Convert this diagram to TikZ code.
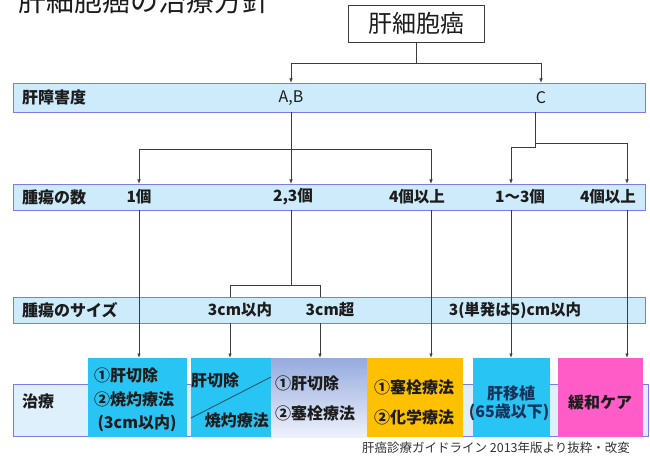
\documentclass[tikz,border=0pt]{standalone}
\usepackage{fontspec}
\setmainfont{Noto Sans CJK JP}
\usetikzlibrary{arrows.meta}
\definecolor{barfill}{RGB}{205,235,251}
\definecolor{barfilltwo}{RGB}{222,240,252}
\definecolor{barline}{RGB}{122,122,232}
\definecolor{connc}{RGB}{60,60,60}
\definecolor{txt}{RGB}{28,28,28}
\definecolor{cyanbox}{RGB}{40,196,244}
\definecolor{orangebox}{RGB}{255,192,0}
\definecolor{pinkbox}{RGB}{255,92,200}
\definecolor{lavtop}{RGB}{150,170,222}
\definecolor{lavbot}{RGB}{238,242,251}
\definecolor{diagc}{RGB}{30,90,110}
\definecolor{navytxt}{RGB}{20,50,90}
\definecolor{fntxt}{RGB}{50,50,50}
\begin{document}
\begin{tikzpicture}[x=1pt,y=-1pt,
  bar/.style={draw=barline, line width=1.3pt, fill=barfill, anchor=north west, inner sep=0, minimum width=632pt},
  conn/.style={draw=connc, line width=0.8pt},
  arr/.style={conn, -{Latex[length=4.5pt,width=3.5pt]}},
  hdr/.style={font=\fontsize{16}{16}\selectfont\bfseries, text=txt, inner sep=0, anchor=west},
  val/.style={font=\fontsize{15.5}{16}\selectfont\bfseries, text=txt, inner sep=0},
  valr/.style={font=\fontsize{16}{16}\selectfont, text=txt, inner sep=0},
  tbox/.style={anchor=north west, inner sep=0, minimum height=79pt},
  btxt/.style={font=\fontsize{16}{17}\selectfont\bfseries, text=txt, inner sep=0}]
\useasboundingbox (0,0) rectangle (650,457);

% title
\node[font=\fontsize{28}{28}\selectfont, text=txt, anchor=west, inner sep=0] (title) at (18,0.5) {肝細胞癌の治療方針};

% top box
\node[draw=connc, line width=0.8pt, fill=white, minimum width=136pt, minimum height=37pt, inner sep=0,
      font=\fontsize{24}{24}\selectfont, text=txt] (hcc) at (416,23.5) {肝細胞癌};

% bars
\node[bar, minimum height=29pt] (bar1) at (13,83) {};
\node[bar, minimum height=26pt] (bar2) at (13,184) {};
\node[bar, minimum height=26pt] (bar3) at (13,297) {};
\node[bar, fill=barfilltwo, minimum width=635pt, minimum height=52pt] (bar4) at (13,384) {};

% coordinates
\coordinate (j0) at (416,63);
\coordinate (jab) at (291,63);
\coordinate (jc) at (541,63);
\coordinate (ab1) at (291,83);
\coordinate (c1) at (541,83);
\coordinate (ab2) at (291,112);
\coordinate (c2) at (535,112);
\coordinate (l1) at (139,149);
\coordinate (r1) at (431,149);
\coordinate (cj) at (535,147);
\coordinate (cj2) at (535,143);
\coordinate (cl) at (511,147);
\coordinate (cr) at (627,143);
\coordinate (n1) at (139,184);
\coordinate (n2) at (291,184);
\coordinate (n3) at (431,184);
\coordinate (n4) at (511,184);
\coordinate (n5) at (627,184);
\coordinate (m1) at (139,210);
\coordinate (m2) at (291,210);
\coordinate (m3) at (431,210);
\coordinate (m4) at (511,210);
\coordinate (m5) at (627,210);
\coordinate (sj) at (291,285);
\coordinate (sl) at (230,285);
\coordinate (sr) at (320,285);
\coordinate (s1) at (230,297);
\coordinate (s2) at (320,297);
\coordinate (t1) at (230,323);
\coordinate (t2) at (320,323);
\coordinate (e1) at (139,358);
\coordinate (e2) at (230,358);
\coordinate (e3) at (320,358);
\coordinate (e4) at (431,358);
\coordinate (e5) at (511,358);
\coordinate (e6) at (627,358);

% connectors
\draw[conn] (hcc.south) -- (j0);
\draw[conn] (jab) -- (jc);
\draw[arr] (jab) -- (ab1);
\draw[arr] (jc) -- (c1);
\draw[arr] (ab2) -- (n2);
\draw[conn] (l1) -- (r1);
\draw[arr] (l1) -- (n1);
\draw[arr] (r1) -- (n3);
\draw[conn] (c2) -- (cj) -- (cl);
\draw[arr] (cl) -- (n4);
\draw[conn] (cj2) -- (cr);
\draw[arr] (cr) -- (n5);
\draw[conn] (m2) -- (sj);
\draw[conn] (sl) -- (sr);
\draw[conn] (sl) -- (s1);
\draw[conn] (sr) -- (s2);
\draw[arr] (m1) -- (e1);
\draw[arr] (m3) -- (e4);
\draw[arr] (m4) -- (e5);
\draw[arr] (m5) -- (e6);
\draw[arr] (t1) -- (e2);
\draw[arr] (t2) -- (e3);

% bar labels
\node[hdr] (h1) at (22,97.5) {肝障害度};
\node[valr] (vab) at (291,98) {A,B};
\node[valr] (vc) at (541,98) {C};
\node[hdr] (h2) at (22,197) {腫瘍の数};
\node[val] (v21) at (139,197) {1個};
\node[val] (v22) at (293,197) {2,3個};
\node[val] (v23) at (417,197) {4個以上};
\node[val] (v24) at (520,197) {1〜3個};
\node[val] (v25) at (608,197) {4個以上};
\node[hdr] (h3) at (22,310) {腫瘍のサイズ};
\node[val] (v31) at (240,310) {3cm以内};
\node[val] (v32) at (330,310) {3cm超};
\node[val] (v33) at (515,310) {3(単発は5)cm以内};
\node[hdr] (h4) at (22,401) {治療};

% treatment boxes
\node[tbox, fill=cyanbox, minimum width=99pt] (b1) at (88,358) {};
\node[tbox, fill=cyanbox, minimum width=80pt] (b2) at (191,358) {};
\node[tbox, top color=lavtop, bottom color=lavbot, minimum width=96pt] (b3) at (271,358) {};
\node[tbox, fill=orangebox, minimum width=96pt] (b4) at (367,358) {};
\node[tbox, fill=cyanbox, minimum width=77pt] (b5) at (473,358) {};
\node[tbox, fill=pinkbox, minimum width=85pt] (b6) at (558,358) {};

\node[btxt, anchor=west] (t11) at (94,375) {①肝切除};
\node[btxt, anchor=west] (t12) at (94,399) {②焼灼療法};
\node[btxt] (t13) at (137,423) {(3cm以内)};

\coordinate (dg1) at (191,418);
\coordinate (dg2) at (271,377);
\draw[draw=diagc, line width=0.9pt] (dg1) -- (dg2);
\node[btxt, anchor=west] (t21) at (191,380) {肝切除};
\node[btxt, anchor=east] (t22) at (269,420) {焼灼療法};

\node[btxt, anchor=west] (t31) at (275,383) {①肝切除};
\node[btxt, anchor=west] (t32) at (275,413) {②塞栓療法};

\node[btxt] (t41) at (414,387) {①塞栓療法};
\node[btxt] (t42) at (414,417) {②化学療法};

\node[btxt, text=navytxt] (t51) at (511,393) {肝移植};
\node[btxt, text=navytxt] (t52) at (509,412) {(65歳以下)};

\node[btxt] (t61) at (600,402) {緩和ケア};

% footnote
\node[font=\fontsize{12.5}{13}\selectfont, text=fntxt, inner sep=0] (fn) at (496,448) {肝癌診療ガイドライン 2013年版より抜粋・改変};
\end{tikzpicture}
\end{document}
